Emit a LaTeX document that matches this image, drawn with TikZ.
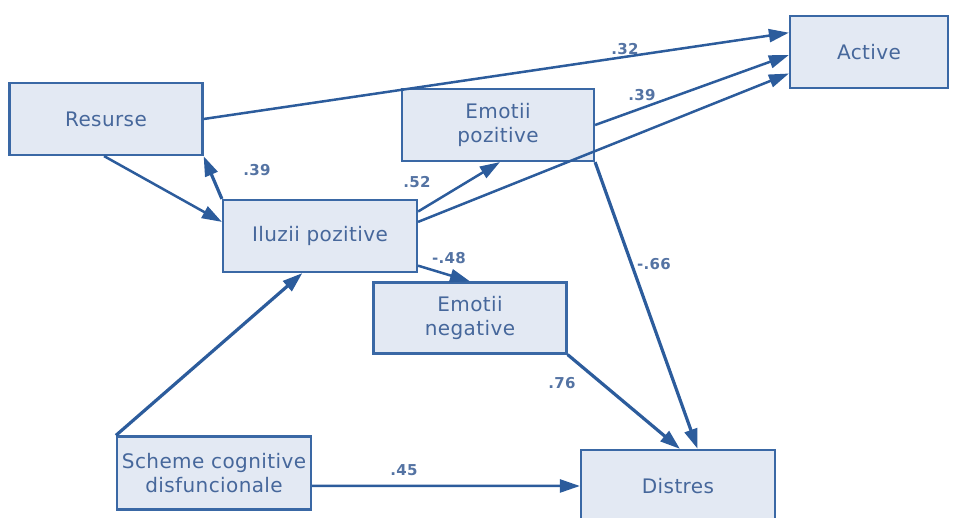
\documentclass[tikz,border=0pt]{standalone}
\usepackage{fontspec}
\setmainfont{DejaVu Sans}
\usetikzlibrary{arrows.meta,calc}
\definecolor{edgeblue}{HTML}{2C5C9C}
\definecolor{boxfill}{HTML}{E3E9F3}
\definecolor{boxline}{HTML}{3A68A5}
\definecolor{txtblue}{HTML}{46679B}
\definecolor{coefblue}{HTML}{5473A3}
\begin{document}
\begin{tikzpicture}[x=1pt,y=-1pt,
  var/.style={draw=boxline, line width=2.2pt, fill=boxfill, text=txtblue,
    font=\fontsize{20}{24}\selectfont\addfontfeatures{LetterSpace=2},
    align=center, inner sep=0pt},
  pathway/.style={draw=edgeblue, line width=2.5pt,
    -{Triangle[length=20pt,width=13pt]}},
  heavy/.style={line width=3.2pt},
  coef/.style={text=coefblue,
    font=\fontsize{15}{17}\selectfont\bfseries\addfontfeatures{LetterSpace=2},
    inner sep=0pt}]
\useasboundingbox (0,0) rectangle (973,518);

% latent variables
\node[var, minimum width=158pt, minimum height=72pt] (act) at (869,52) {Active};
\node[var, minimum width=193pt, minimum height=72pt] (res) at (106,119) {Resurse};
\node[var, minimum width=192pt, minimum height=72pt] (ep)  at (498,125) {Emotii\\pozitive};
\node[var, minimum width=194pt, minimum height=72pt] (ilu) at (320,236) {Iluzii pozitive};
\node[var, minimum width=193pt, minimum height=71pt] (en)  at (470,318) {Emotii\\negative};
\node[var, minimum width=194pt, minimum height=73pt] (sch) at (214,473) {Scheme cognitive\\disfuncionale};
\node[var, minimum width=194pt, minimum height=72pt] (dis) at (678,486) {Distres};

% paths into Active
\draw[pathway] (res.east) -- ($(act.north west)!0.24!(act.south west)$);
\draw[pathway] (ep.east) -- ($(act.north west)!0.54!(act.south west)$);
\draw[pathway] ($(ilu.north east)!0.31!(ilu.south east)$) -- ($(act.north west)!0.79!(act.south west)$);

% Resurse <-> Iluzii pozitive
\draw[pathway] ($(res.south west)!0.49!(res.south east)$) -- ($(ilu.north west)!0.31!(ilu.south west)$);
\draw[pathway, heavy] (ilu.north west) -- (res.south east);

% Iluzii pozitive -> emotions
\draw[pathway] ($(ilu.north east)!0.17!(ilu.south east)$) -- ($(ep.south west)!0.51!(ep.south east)$);
\draw[pathway] ($(ilu.north east)!0.9!(ilu.south east)$) -- ($(en.north west)!0.5!(en.north east)$);

% emotions -> Distres
\draw[pathway, heavy] (ep.south east) -- ($(dis.north west)!0.6!(dis.north east)$);
\draw[pathway, heavy] (en.south east) -- ($(dis.north west)!0.51!(dis.north east)$);

% Scheme cognitive disfuncionale
\draw[pathway, heavy] (sch.north west) -- ($(ilu.south west)!0.41!(ilu.south east)$);
\draw[pathway] ($(sch.north east)!0.67!(sch.south east)$) -- (dis.west);

% path coefficients
\node[coef] (c1) at (625,49)  {.32};
\node[coef] (c2) at (642,95)  {.39};
\node[coef] (c3) at (257,170) {.39};
\node[coef] (c4) at (417,182) {.52};
\node[coef] (c5) at (449,258) {-.48};
\node[coef] (c6) at (654,264) {-.66};
\node[coef] (c7) at (562,383) {.76};
\node[coef] (c8) at (404,470) {.45};
\end{tikzpicture}
\end{document}
